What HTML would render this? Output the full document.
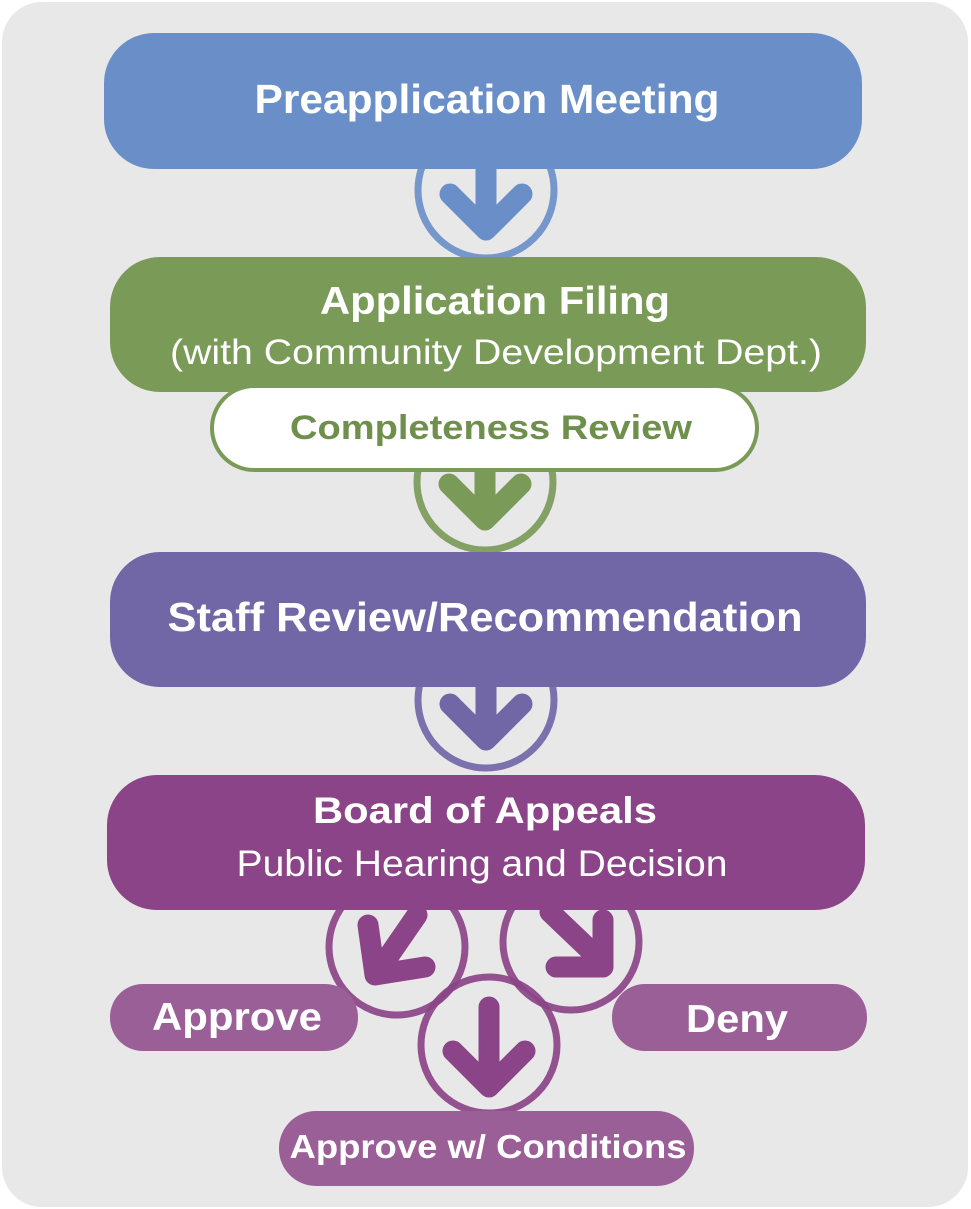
<!DOCTYPE html>
<html><head><style>
html,body{margin:0;padding:0;background:#fff;}
svg{display:block;}
text{font-family:"Liberation Sans",Arial,sans-serif;fill:#fff;text-anchor:middle;}
</style></head><body>
<svg width="971" height="1209" viewBox="0 0 971 1209">
<rect x="2" y="2" width="966" height="1205" rx="40" fill="#e8e8e8"/>
<g fill="none" stroke-width="7" stroke-opacity="0.92">
<circle cx="486" cy="190" r="68" stroke="#6a8fc8"/>
<circle cx="485" cy="482" r="68" stroke="#7a9a58"/>
<circle cx="486" cy="700" r="68" stroke="#7166a6"/>
<circle cx="397" cy="947" r="68" stroke="#8b4487"/>
<circle cx="571" cy="942" r="68" stroke="#8b4487"/>
<circle cx="489" cy="1045" r="68" stroke="#8b4487"/>
</g>
<g fill="none" stroke-width="21" stroke-linecap="round" stroke-linejoin="round">
<path d="M486 150 V228 M450 194 L486 230 L522 194" stroke="#6a8fc8"/>
<path d="M485 440 V518 M449 484 L485 520 L521 484" stroke="#7a9a58"/>
<path d="M486 660 V738 M450 704 L486 740 L522 704" stroke="#7166a6"/>
<path d="M417 915 L377 973 M368 925 L375 975 L425 967" stroke="#8b4487"/>
<path d="M550 912 L595 955 M603 920 L603 967 L556 967" stroke="#8b4487"/>
<path d="M489 1007 V1085 M453 1051 L489 1087 L525 1051" stroke="#8b4487"/>
</g>
<rect x="104" y="33" width="758" height="136" rx="50" fill="#6a8fc8"/>
<text x="487" y="113" font-size="41" font-weight="bold" textLength="465" lengthAdjust="spacingAndGlyphs">Preapplication Meeting</text>
<rect x="110" y="257" width="756" height="135" rx="50" fill="#7a9a58"/>
<text x="495" y="314" font-size="39" font-weight="bold" textLength="350" lengthAdjust="spacingAndGlyphs">Application Filing</text>
<text x="496" y="364" font-size="35" textLength="652" lengthAdjust="spacingAndGlyphs">(with Community Development Dept.)</text>
<rect x="212" y="386" width="545" height="84" rx="42" fill="#fff" stroke="#7a9a58" stroke-width="4"/>
<text x="491" y="439" font-size="34" font-weight="bold" style="fill:#6f8f4c" textLength="402" lengthAdjust="spacingAndGlyphs">Completeness Review</text>
<rect x="110" y="552" width="756" height="135" rx="50" fill="#7166a6"/>
<text x="485" y="631" font-size="41" font-weight="bold" textLength="635" lengthAdjust="spacingAndGlyphs">Staff Review/Recommendation</text>
<rect x="107" y="775" width="758" height="135" rx="50" fill="#8b4487"/>
<text x="485" y="823" font-size="37" font-weight="bold" textLength="344" lengthAdjust="spacingAndGlyphs">Board of Appeals</text>
<text x="482" y="876" font-size="37" textLength="491" lengthAdjust="spacingAndGlyphs">Public Hearing and  Decision</text>
<rect x="110" y="984" width="248" height="67" rx="33" fill="#9b5f98"/>
<text x="237" y="1030" font-size="39" font-weight="bold" textLength="170" lengthAdjust="spacingAndGlyphs">Approve</text>
<rect x="612" y="984" width="255" height="67" rx="33" fill="#9b5f98"/>
<text x="737" y="1032" font-size="39" font-weight="bold" textLength="102" lengthAdjust="spacingAndGlyphs">Deny</text>
<rect x="279" y="1111" width="415" height="75" rx="37" fill="#9b5f98"/>
<text x="488" y="1158" font-size="33" font-weight="bold" textLength="397" lengthAdjust="spacingAndGlyphs">Approve w/ Conditions</text>
</svg>
</body></html>
